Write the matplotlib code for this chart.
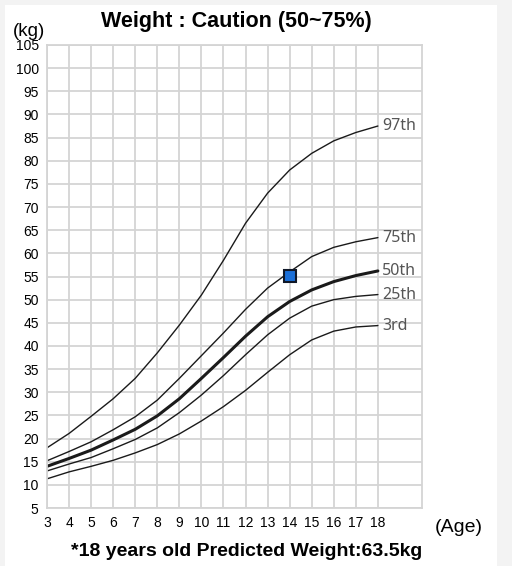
import matplotlib
matplotlib.use("Agg")
from matplotlib import pyplot as plt
from matplotlib.patches import Rectangle

# ages and percentile weights (kg)
ages = [3, 4, 5, 6, 7, 8, 9, 10, 11, 12, 13, 14, 15, 16, 17, 18]
p97 = [18.0, 21.1, 24.8, 28.6, 33.0, 38.5, 44.5, 51.0, 58.5, 66.5, 73.0, 78.0, 81.6, 84.3, 86.1, 87.5]
p75 = [15.2, 17.2, 19.3, 21.9, 24.7, 28.3, 33.0, 37.9, 42.8, 47.9, 52.5, 56.0, 59.3, 61.3, 62.5, 63.4]
p50 = [14.0, 15.7, 17.5, 19.7, 22.0, 24.9, 28.6, 33.0, 37.5, 42.1, 46.3, 49.6, 52.1, 53.9, 55.2, 56.2]
p25 = [13.0, 14.5, 15.9, 17.8, 19.8, 22.3, 25.6, 29.4, 33.6, 38.1, 42.4, 46.0, 48.6, 50.0, 50.7, 51.1]
p3 = [11.3, 12.8, 14.0, 15.3, 16.9, 18.7, 21.0, 23.8, 26.9, 30.4, 34.3, 38.1, 41.3, 43.2, 44.1, 44.4]
labels = ["97th", "75th", "50th", "25th", "3rd"]
child_age = 14
child_weight = 55.2
yticks = list(range(5, 110, 5))

fig = plt.figure(figsize=(5.12, 5.66), dpi=100)
fig.patch.set_facecolor("#f3f3f3")
fig.patches.append(Rectangle((5/512, 0), 492/512, 561/566, transform=fig.transFigure,
                             facecolor="white", edgecolor="none", zorder=-1))

ax = fig.add_axes([47/512, 1-508/566, 375/512, 463/566])
ax.set_zorder(2)
ax.set_xlim(3, 20)
ax.set_ylim(5, 105)
ax.set_xticks(ages)
ax.set_yticks(yticks)
ax.set_xticklabels([str(a) for a in ages], fontsize=10, family="Liberation Sans")
ax.set_yticklabels([str(v) for v in yticks], fontsize=10, family="Liberation Sans")
ax.tick_params(length=0, pad=6)
ax.grid(color="#d4d4d4", lw=1.3)
ax.set_axisbelow(True)
for s in ax.spines.values():
    s.set_color("#d4d4d4")
    s.set_linewidth(1.3)

series = [p97, p75, p50, p25, p3]
for vals, lab in zip(series, labels):
    lw = 2.2 if lab == "50th" else 1.0
    ax.plot(ages, vals, color="#1a1a1a", lw=lw, solid_capstyle="round")
    ax.annotate(lab, (ages[-1], vals[-1]), xytext=(3, 0), textcoords="offset points",
                va="center", ha="left", fontsize=11.5, color="#555555", family="Noto Sans")

ax.plot([child_age], [child_weight], marker="s", ms=9, mfc="#1a6fd8", mec="#101828", mew=1.5)

fig.text(236/512, 1-22/566, "Weight : Caution (50~75%)", ha="center", va="center",
         fontsize=15.5, fontweight="bold", family="Liberation Sans")
fig.text(29/512, 1-31/566, "(kg)", ha="center", va="center", fontsize=13.5, family="Liberation Sans")
fig.text(459/512, 1-527/566, "(Age)", ha="center", va="center", fontsize=14, family="Liberation Sans")
fig.text(247/512, 1-552/566, "*18 years old Predicted Weight:63.5kg", ha="center", va="center",
         fontsize=14, fontweight="bold", family="Liberation Sans")

plt.savefig("out.png", dpi=100, facecolor=fig.get_facecolor())
